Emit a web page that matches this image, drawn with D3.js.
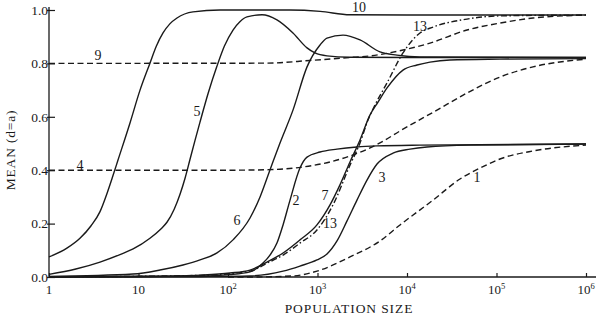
<!DOCTYPE html>
<html>
<head>
<meta charset="utf-8">
<script src="https://cdn.jsdelivr.net/npm/d3@7.9.0/dist/d3.min.js"></script>
<style>
  body { margin: 0; background: #fff; }
  svg { font-family: "Liberation Serif", "DejaVu Serif", serif; }
  .curve { fill: none; stroke: #1a1a1a; stroke-width: 1.4; }
  .lbl { font-size: 14px; fill: #1a1a1a; }
</style>
</head>
<body>
<svg id="chart" width="600" height="320"></svg>
<script>
// ---- data: [log10(population size), mean] ----
const xTicks = [0, 1, 2, 3, 4, 5, 6];
const yTicks = [0, 0.2, 0.4, 0.6, 0.8, 1.0];

const curve10 = [[0,0.075],[0.2,0.108],[0.346,0.145],[0.47,0.192],[0.57,0.245],[0.65,0.315],[0.715,0.38],[0.771,0.438],[0.905,0.577],[1.017,0.70],[1.128,0.801],[1.2,0.865],[1.274,0.914],[1.35,0.948],[1.43,0.97],[1.609,0.993],[1.911,1.0],[2.69,1.0],[3.03,0.995],[3.363,0.982],[4,0.981],[6,0.981]];
const curve5 = [[0,0.01],[0.3,0.03],[0.57,0.056],[0.8,0.085],[0.94,0.105],[1.128,0.145],[1.25,0.18],[1.318,0.205],[1.4,0.255],[1.464,0.31],[1.52,0.37],[1.575,0.44],[1.63,0.51],[1.687,0.58],[1.78,0.69],[1.877,0.79],[1.96,0.865],[2.056,0.925],[2.13,0.955],[2.212,0.974],[2.38,0.982],[2.547,0.963],[2.726,0.914],[2.883,0.858],[2.972,0.839],[3.106,0.828],[3.363,0.823],[4,0.822],[6,0.822]];
const curve9 = [[0,0.80],[2.44,0.801],[2.916,0.811],[3.363,0.822],[3.587,0.828],[3.955,0.85],[4.257,0.876],[4.67,0.925],[5.039,0.951],[5.408,0.97],[6,0.981]];
const curve4 = [[0,0.40],[2.0,0.40],[2.469,0.402],[2.838,0.412],[3.14,0.431],[3.397,0.457],[3.698,0.502],[3.922,0.547],[4.335,0.625],[4.67,0.689],[5.039,0.749],[5.408,0.787],[6,0.816]];
const curve6 = [[0,0.002],[0.939,0.011],[1.24,0.026],[1.497,0.045],[1.687,0.064],[1.877,0.09],[2.056,0.139],[2.246,0.221],[2.358,0.30],[2.469,0.401],[2.581,0.502],[2.726,0.625],[2.883,0.787],[3.028,0.869],[3.106,0.895],[3.285,0.906],[3.475,0.888],[3.698,0.843],[3.888,0.831],[4.145,0.824],[6,0.822]];
const curve2 = [[0,0.001],[1.687,0.004],[2.022,0.009],[2.246,0.019],[2.391,0.052],[2.469,0.082],[2.547,0.127],[2.615,0.195],[2.693,0.288],[2.804,0.408],[2.883,0.449],[3.028,0.468],[3.218,0.479],[3.441,0.487],[3.665,0.491],[4.145,0.494],[6,0.498]];
const curve7 = [[0,0.0],[1.128,0.002],[1.687,0.007],[2.022,0.015],[2.246,0.026],[2.436,0.056],[2.615,0.09],[2.804,0.139],[2.994,0.195],[3.14,0.27],[3.251,0.345],[3.363,0.431],[3.475,0.513],[3.587,0.607],[3.676,0.655],[3.777,0.708],[3.955,0.775],[4.112,0.794],[4.257,0.805],[4.48,0.813],[5.039,0.816],[6,0.818]];
const curve13 = [[0,0.0],[1.687,0.006],[2.246,0.022],[2.436,0.052],[2.615,0.082],[2.804,0.127],[2.994,0.176],[3.173,0.27],[3.363,0.419],[3.475,0.502],[3.564,0.588],[3.642,0.644],[3.777,0.727],[3.955,0.839],[4.145,0.914],[4.291,0.936],[4.67,0.966],[5.039,0.978],[6,0.981]];
const curve3 = [[0,0.0],[1.687,0.002],[2.246,0.004],[2.615,0.022],[2.804,0.041],[2.994,0.064],[3.106,0.086],[3.218,0.135],[3.33,0.21],[3.441,0.288],[3.553,0.363],[3.665,0.423],[3.844,0.464],[4.034,0.479],[4.223,0.487],[4.704,0.494],[6,0.498]];
const curve1 = [[2.0,0.0],[2.246,0.0],[2.726,0.004],[2.994,0.022],[3.363,0.075],[3.698,0.135],[3.922,0.195],[4.291,0.288],[4.592,0.367],[4.816,0.408],[5.039,0.442],[5.408,0.472],[6,0.494]];

// curve labels: [text, log10 N, mean]
const labels = [['10',3.464,1.011],['9',0.547,0.828],['5',1.654,0.618],['4',0.346,0.419],['6',2.101,0.213],['2',2.76,0.285],['7',3.084,0.307],['13',3.14,0.202],['3',3.721,0.371],['1',4.782,0.371],['13',4.145,0.94]];

const DASH = '6,3.5';
const DASHDOT = '6,2.5,1.5,2.5';
const series = [
  { data: curve10, dash: null },
  { data: curve5, dash: null },
  { data: curve9, dash: DASH },
  { data: curve4, dash: DASH },
  { data: curve6, dash: null },
  { data: curve2, dash: null },
  { data: curve7, dash: null },
  { data: curve13, dash: DASHDOT },
  { data: curve3, dash: null },
  { data: curve1, dash: DASH },
];

// ---- layout ----
const svg = d3.select('#chart');
const plotL = 49, plotR = 586, plotT = 10, plotB = 277;

const x = d3.scaleLog().domain([1, 1e6]).range([plotL, plotR]);
const y = d3.scaleLinear().domain([0, 1]).range([plotB, plotT]);

const line = d3.line()
  .x(d => x(10 ** d[0]))
  .y(d => y(d[1]))
  .curve(d3.curveMonotoneX);

// ---- axes ----
const xAxis = svg.append('g')
  .attr('transform', `translate(0,${plotB})`)
  .call(d3.axisBottom(x).tickValues(xTicks.map(e => 10 ** e)).tickSizeInner(-4).tickSizeOuter(0).tickFormat(''));
xAxis.select('.domain').remove();
xAxis.selectAll('line').attr('stroke', '#1a1a1a').attr('stroke-width', 1.2);

svg.append('line')
  .attr('x1', plotL).attr('x2', 596)
  .attr('y1', plotB).attr('y2', plotB)
  .attr('stroke', '#1a1a1a').attr('stroke-width', 1.6);

const xLab = svg.append('g').selectAll('text')
  .data(xTicks)
  .join('text')
  .attr('x', d => x(10 ** d))
  .attr('y', plotB + 17)
  .attr('text-anchor', 'middle')
  .attr('font-size', 13)
  .attr('fill', '#1a1a1a');
xLab.filter(d => d < 2).text(d => String(10 ** d));
xLab.filter(d => d >= 2).each(function (d) {
  const t = d3.select(this);
  t.append('tspan').text('10');
  t.append('tspan').attr('dy', -5).attr('font-size', 8.5).text(d);
});

const yAxis = svg.append('g')
  .attr('transform', `translate(${plotL},0)`)
  .call(d3.axisLeft(y).tickValues(yTicks).tickSizeInner(-6).tickSizeOuter(0).tickPadding(3).tickFormat(d3.format('.1f')));
yAxis.select('.domain').remove();
yAxis.selectAll('line').attr('stroke', '#1a1a1a').attr('x1', -2).attr('stroke-width', 1.2);
yAxis.selectAll('text')
  .attr('font-family', '"Liberation Serif", serif')
  .attr('font-size', 13.5)
  .attr('fill', '#1a1a1a')
  .attr('x', -1);

svg.append('line')
  .attr('x1', plotL).attr('x2', plotL)
  .attr('y1', plotT - 3).attr('y2', plotB)
  .attr('stroke', '#1a1a1a').attr('stroke-width', 1.3);

svg.append('text')
  .attr('x', 349).attr('y', 313)
  .attr('text-anchor', 'middle')
  .attr('font-size', 13.5)
  .attr('letter-spacing', 0.9)
  .attr('fill', '#1a1a1a')
  .text('POPULATION SIZE');

svg.append('text')
  .attr('transform', 'translate(15,150) rotate(-90)')
  .attr('text-anchor', 'middle')
  .attr('font-size', 13.5)
  .attr('letter-spacing', 0.8)
  .attr('fill', '#1a1a1a')
  .text('MEAN (d=a)');

// ---- curves ----
svg.append('g').selectAll('path')
  .data(series)
  .join('path')
  .attr('class', 'curve')
  .attr('stroke-dasharray', d => d.dash)
  .attr('d', d => line(d.data));

// ---- labels ----
svg.append('g').selectAll('text')
  .data(labels)
  .join('text')
  .attr('class', 'lbl')
  .attr('x', d => x(10 ** d[1]))
  .attr('y', d => y(d[2]))
  .attr('text-anchor', 'middle')
  .attr('dominant-baseline', 'central')
  .text(d => d[0]);
</script>
</body>
</html>
